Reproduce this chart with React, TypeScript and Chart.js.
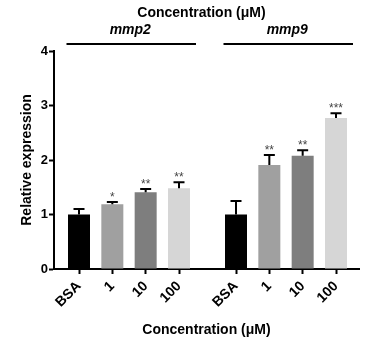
import React, { useEffect, useRef } from 'react';
import { Chart, registerables } from 'chart.js';

Chart.register(...registerables);

const groups = ['mmp2', 'mmp9'];
const categories = ['BSA', '1', '10', '100'];
const mmp2Values = [1.0, 1.19, 1.41, 1.48];
const mmp2Errors = [0.1, 0.04, 0.06, 0.11];
const mmp2Stars = ['', '*', '**', '**'];
const mmp9Values = [1.0, 1.91, 2.08, 2.77];
const mmp9Errors = [0.25, 0.18, 0.1, 0.09];
const mmp9Stars = ['', '**', '**', '***'];
const yTicks = [0, 1, 2, 3, 4];
const categoryColors = ['#000000', '#a0a0a0', '#7e7e7e', '#d6d6d6'];
const xTitle = 'Concentration (μM)';
const topTitle = 'Concentration (μM)';
const yTitle = 'Relative expression';

const seriesValues = [mmp2Values, mmp9Values];
const seriesErrors = [mmp2Errors, mmp9Errors];
const seriesStars = [mmp2Stars, mmp9Stars];

const GROUP_OFFSET = 4.71;
const FONT = '"Liberation Sans", Arial, sans-serif';

const groupPositions = groups.map((_, g) => categories.map((_, i) => g * GROUP_OFFSET + i));
const allPositions = groupPositions.flat();
const allLabels = groups.flatMap(() => categories);

const annotationPlugin = {
  id: 'annotations',
  afterDatasetsDraw(chart: any) {
    const ctx = chart.ctx;
    const y = chart.scales.y;
    ctx.save();
    ctx.strokeStyle = '#000';
    ctx.lineWidth = 2;
    seriesValues.forEach((vals, d) => {
      const meta = chart.getDatasetMeta(d);
      meta.data.forEach((bar: any, i: number) => {
        const x = bar.x;
        const top = y.getPixelForValue(vals[i]);
        const errTop = y.getPixelForValue(vals[i] + seriesErrors[d][i]);
        ctx.beginPath();
        ctx.moveTo(x, top);
        ctx.lineTo(x, errTop);
        ctx.moveTo(x - 5.5, errTop);
        ctx.lineTo(x + 5.5, errTop);
        ctx.stroke();
        const s = seriesStars[d][i];
        if (s) {
          ctx.fillStyle = '#444';
          ctx.font = `12px ${FONT}`;
          ctx.textAlign = 'center';
          ctx.textBaseline = 'alphabetic';
          ctx.fillText(s, x, errTop - 1);
        }
      });
    });
    ctx.restore();
  },
  afterDraw(chart: any) {
    const ctx = chart.ctx;
    const xs = chart.scales.x;
    const area = chart.chartArea;
    ctx.save();
    ctx.fillStyle = '#000';
    ctx.textAlign = 'center';
    ctx.textBaseline = 'middle';
    ctx.font = `bold 14px ${FONT}`;
    ctx.fillText(topTitle, (area.left + area.right) / 2 - 5, 13);
    groups.forEach((g, gi) => {
      const pos = groupPositions[gi];
      const x0 = xs.getPixelForValue(pos[0]) - 12.5;
      const x1 = xs.getPixelForValue(pos[pos.length - 1]) + 17;
      ctx.strokeStyle = '#000';
      ctx.lineWidth = 2;
      ctx.beginPath();
      ctx.moveTo(x0, 44);
      ctx.lineTo(x1, 44);
      ctx.stroke();
      ctx.font = `italic bold 14px ${FONT}`;
      ctx.fillText(g, (x0 + x1) / 2 - 1, 30);
    });
    ctx.restore();
  },
};

export default function App() {
  const ref = useRef<HTMLCanvasElement | null>(null);
  useEffect(() => {
    document.body.style.margin = '0';
    Chart.defaults.font.family = FONT;
    const tickFont = { family: FONT, size: 13, weight: 'bold' as const };
    const xTickFont = { family: FONT, size: 14, weight: 'bold' as const };
    const titleFont = { family: FONT, size: 14, weight: 'bold' as const };
    const chart = new Chart(ref.current!, {
      type: 'bar',
      data: {
        datasets: groups.map((g, gi) => ({
          label: g,
          data: seriesValues[gi].map((v, i) => ({ x: groupPositions[gi][i], y: v })),
          backgroundColor: categoryColors,
          borderWidth: 0,
          grouped: false,
          categoryPercentage: 1,
          barPercentage: 0.66,
        })) as any,
      },
      options: {
        responsive: false,
        animation: false,
        devicePixelRatio: 1,
        layout: { padding: { top: 51, right: 11, bottom: 0, left: 0 } },
        plugins: { legend: { display: false }, tooltip: { enabled: false }, title: { display: false } },
        scales: {
          x: {
            type: 'linear',
            offset: false,
            min: -0.75,
            max: 8.4,
            bounds: 'data',
            afterBuildTicks: (s: any) => {
              s.ticks = allPositions.map((v) => ({ value: v }));
            },
            afterFit: (s: any) => {
              s.height = 86;
            },
            ticks: {
              autoSkip: false,
              minRotation: 45,
              maxRotation: 45,
              color: '#000',
              font: xTickFont,
              padding: 4,
              callback: (_v: any, i: number) => allLabels[i],
            },
            grid: { offset: false, drawOnChartArea: false, drawTicks: true, tickLength: 5, tickWidth: 2, tickColor: '#000' },
            border: { color: '#000', width: 2 },
            title: { display: true, text: xTitle, color: '#000', font: titleFont, padding: { top: 0, bottom: 16 } },
          } as any,
          y: {
            min: 0,
            max: 4,
            afterBuildTicks: (s: any) => {
              s.ticks = yTicks.map((v) => ({ value: v }));
            },
            afterFit: (s: any) => {
              s.width = 54;
            },
            ticks: { color: '#000', font: tickFont, padding: 1 },
            grid: { drawOnChartArea: false, drawTicks: true, tickLength: 5, tickWidth: 2, tickColor: '#000' },
            border: { color: '#000', width: 2 },
            title: { display: true, text: yTitle, color: '#000', font: titleFont, padding: { top: 19, bottom: 0 } },
          } as any,
        },
      },
      plugins: [annotationPlugin],
    });
    return () => chart.destroy();
  }, []);
  return (
    <div style={{ width: 370, height: 355 }}>
      <canvas ref={ref} width={370} height={355} style={{ display: 'block' }} />
    </div>
  );
}
